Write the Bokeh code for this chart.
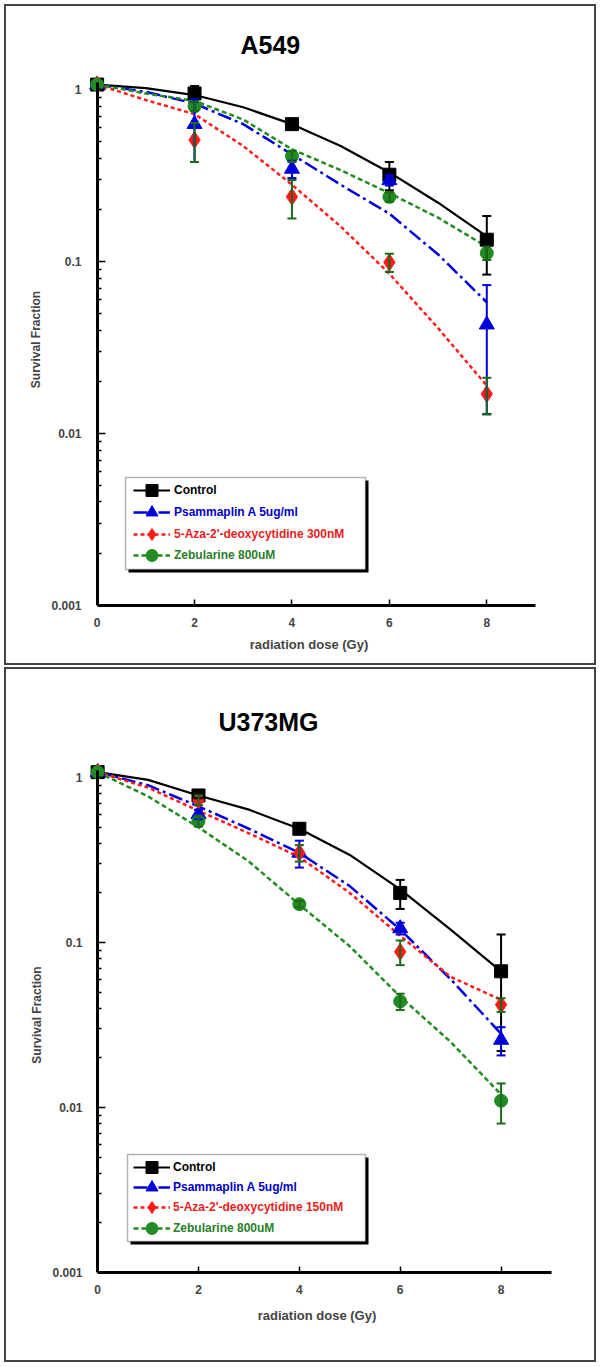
from bokeh.plotting import figure
from bokeh.models import (Range1d, FixedTicker, CustomJSTickFormatter, Whisker, TeeHead,
                          ColumnDataSource, Legend, LegendItem, BoxAnnotation, LogAxis)
from bokeh.layouts import column
from bokeh.embed import file_html
from bokeh.resources import INLINE

# ---------------- data ----------------
doses = [0, 2, 4, 6, 8]
curve_doses = [0, 1, 2, 3, 4, 5, 6, 7, 8]

series_labels_a549 = ["Control", "Psammaplin A 5ug/ml", "5-Aza-2'-deoxycytidine 300nM", "Zebularine 800uM"]
series_labels_u373 = ["Control", "Psammaplin A 5ug/ml", "5-Aza-2'-deoxycytidine 150nM", "Zebularine 800uM"]

# A549 measured survival fractions and errors
a549_control = [1.07, 0.95, 0.63, 0.32, 0.134]
a549_control_err = [0.0, 0.10, 0.03, 0.06, 0.05]
a549_psam = [1.07, 0.63, 0.346, 0.297, 0.043]
a549_psam_err = [0.0, 0.25, 0.04, 0.02, 0.03]
a549_aza = [1.07, 0.51, 0.238, 0.099, 0.017]
a549_aza_err = [0.0, 0.13, 0.06, 0.012, 0.0041]
a549_zeb = [1.07, 0.80, 0.41, 0.238, 0.112]
a549_zeb_err = [0.0, 0.05, 0.03, 0.015, 0.01]
# A549 fitted curves (read at 0..8 Gy)
a549_control_fit = [1.07, 1.02, 0.93, 0.79, 0.63, 0.47, 0.33, 0.22, 0.14]
a549_psam_fit = [1.07, 0.97, 0.83, 0.63, 0.42, 0.28, 0.19, 0.11, 0.058]
a549_aza_fit = [1.07, 0.87, 0.72, 0.47, 0.28, 0.16, 0.085, 0.041, 0.019]
a549_zeb_fit = [1.07, 0.95, 0.86, 0.67, 0.45, 0.34, 0.25, 0.18, 0.122]

# U373MG measured survival fractions and errors
u373_control = [1.08, 0.78, 0.49, 0.20, 0.067]
u373_control_err = [0.0, 0.03, 0.03, 0.04, 0.045]
u373_psam = [1.08, 0.60, 0.35, 0.122, 0.0257]
u373_psam_err = [0.0, 0.04, 0.065, 0.01, 0.005]
u373_aza = [1.08, 0.73, 0.35, 0.088, 0.042]
u373_aza_err = [0.0, 0.05, 0.04, 0.015, 0.004]
u373_zeb = [1.08, 0.545, 0.171, 0.044, 0.011]
u373_zeb_err = [0.0, 0.04, 0.008, 0.005, 0.003]
# U373MG fitted curves
u373_control_fit = [1.08, 0.97, 0.78, 0.64, 0.49, 0.34, 0.21, 0.12, 0.067]
u373_psam_fit = [1.08, 0.90, 0.67, 0.49, 0.35, 0.22, 0.12, 0.06, 0.028]
u373_aza_fit = [1.08, 0.87, 0.63, 0.46, 0.33, 0.20, 0.11, 0.062, 0.045]
u373_zeb_fit = [1.08, 0.77, 0.50, 0.31, 0.17, 0.095, 0.047, 0.025, 0.012]

y_tick_values = [0.001, 0.01, 0.1, 1]
x_tick_values = [0, 2, 4, 6, 8]

# ---------------- styles ----------------
FONT = "Liberation Sans"
styles = [
    dict(color="#000000", text="#000000", bar="#000000", marker="square", size=13, dash="solid", lw=2.2),
    dict(color="#0000DD", text="#0000CC", bar="#0000DD", marker="triangle", size=15, dash="14 4 3 4", lw=2.5),
    dict(color="#FF1A1A", text="#EE1C1C", bar="#1A6B1A", marker="diamond", size=17, dash="4 3", lw=2.5),
    dict(color="#228B22", text="#2A7F2A", bar="#1A6B1A", marker="circle", size=13, dash="5 3", lw=2.5),
]
MINOR = [m * 10.0 ** e for e in (-3, -2, -1) for m in range(2, 10)]


def make_panel(title, labels, meas, errs, fits, geo):
    W = 588
    p = figure(x_range=Range1d(-0.3, 9.0), y_range=Range1d(0.001, geo["y_end"]),
               y_axis_type="log", output_backend="svg", toolbar_location=None,
               frame_width=geo["fw"], frame_height=geo["fh"],
               min_border_left=geo["bl"], min_border_right=W - geo["bl"] - geo["fw"],
               min_border_top=geo["bt"], min_border_bottom=geo["bb"],
               background_fill_color="white", border_fill_color="white")
    p.outline_line_color = None
    p.grid.visible = False
    p.styles = {"border": "2px solid #444444"}
    p.margin = geo["margin"]

    # title
    p.title.text = title
    p.title.align = "left"
    p.title.offset = geo["toff"]
    p.title.standoff = geo["tstand"]
    p.title.text_font = FONT
    p.title.text_font_style = "bold"
    p.title.text_font_size = "25px"
    p.title.text_color = "black"

    # x axis
    xa = p.xaxis[0]
    xa.ticker = FixedTicker(ticks=x_tick_values)
    xa.bounds = (0, 9)
    xa.axis_line_width = 3
    xa.major_tick_in = 6
    xa.major_tick_out = 0
    xa.major_tick_line_width = 1.5
    xa.minor_tick_line_color = None
    xa.major_label_standoff = 12
    xa.major_label_text_font = FONT
    xa.major_label_text_font_style = "bold"
    xa.major_label_text_font_size = "12px"
    xa.axis_label = "radiation dose (Gy)"
    xa.axis_label_text_font = FONT
    xa.axis_label_text_font_style = "bold"
    xa.axis_label_text_font_size = "13px"
    xa.axis_label_standoff = geo["xls"]

    # y axis: labels at the frame edge (no line / ticks)
    ya = p.yaxis[0]
    ya.ticker = FixedTicker(ticks=y_tick_values)
    ya.formatter = CustomJSTickFormatter(code="return String(tick)")
    ya.axis_line_color = None
    ya.major_tick_line_color = None
    ya.minor_tick_line_color = None
    ya.major_label_standoff = geo["yms"]
    ya.major_label_text_font = FONT
    ya.major_label_text_font_style = "bold"
    ya.major_label_text_font_size = "12px"
    ya.axis_label = "Survival Fraction"
    ya.axis_label_text_font = FONT
    ya.axis_label_text_font_style = "bold"
    ya.axis_label_text_font_size = "12px"
    ya.axis_label_standoff = 5

    # y axis line + ticks drawn at dose 0
    yl = LogAxis(fixed_location=0, bounds=(0.001, 1.1),
                 ticker=FixedTicker(ticks=y_tick_values, minor_ticks=MINOR),
                 formatter=CustomJSTickFormatter(code="return ''"),
                 axis_line_width=3, major_tick_in=0, major_tick_out=8, major_tick_line_width=1.5,
                 minor_tick_in=0, minor_tick_out=4, minor_tick_line_width=1.5,
                 major_label_text_font_size="0px", major_label_standoff=0)
    p.add_layout(yl, "right")

    renderers = []
    for s, st, e, f in zip(meas, styles, errs, fits):
        line_r = p.line(curve_doses, f, line_color=st["color"], line_width=st["lw"], line_dash=st["dash"])
        xs = [d for d, ee in zip(doses, e) if ee > 0]
        up = [v + ee for v, ee in zip(s, e) if ee > 0]
        lo = [v - ee for v, ee in zip(s, e) if ee > 0]
        src = ColumnDataSource(dict(x=xs, upper=up, lower=lo))
        w = Whisker(base="x", upper="upper", lower="lower", source=src,
                    line_color=st["bar"], line_width=2, level="glyph",
                    upper_head=TeeHead(size=9, line_color=st["bar"], line_width=2),
                    lower_head=TeeHead(size=9, line_color=st["bar"], line_width=2))
        p.add_layout(w)
        renderers.append((line_r, st, s))
    scat = []
    for line_r, st, s in renderers:
        sr = p.scatter(doses, s, marker=st["marker"], size=st["size"], fill_color=st["color"],
                       line_color=st["color"], line_width=1)
        scat.append(sr)

    # legend box with shadow
    lg = geo["leg"]
    p.add_layout(BoxAnnotation(left=lg["l"] + 3, right=lg["r"] + 3, top=lg["t"] - 3, bottom=lg["b"] - 3,
                               left_units="screen", right_units="screen", top_units="screen",
                               bottom_units="screen", fill_color="black", fill_alpha=1, line_color=None))
    p.add_layout(BoxAnnotation(left=lg["l"], right=lg["r"], top=lg["t"], bottom=lg["b"],
                               left_units="screen", right_units="screen", top_units="screen",
                               bottom_units="screen", fill_color="white", fill_alpha=1,
                               line_color="black", line_width=1.5))
    for i, ((line_r, st, s), sr, lab) in enumerate(zip(renderers, scat, labels)):
        leg = Legend(items=[LegendItem(label=lab, renderers=[line_r, sr])],
                     location=(lg["gx"], lg["ys"][i] - 15), padding=0, margin=0, spacing=0,
                     border_line_color=None, background_fill_alpha=0,
                     glyph_width=37, glyph_height=30, label_height=30, label_standoff=lg["so"],
                     label_text_font=FONT, label_text_font_style="bold", label_text_font_size="12px",
                     label_text_color=st["text"], label_text_baseline="middle")
        p.add_layout(leg)
    return p


geo_top = dict(y_end=1.241, fw=449, fh=528, bl=76, bt=67, bb=62, margin=(4, 4, 0, 4),
               toff=158, tstand=30, xls=7, yms=-5,
               leg=dict(l=43, r=283, t=128, b=36, gx=51, ys=[115, 93, 71, 50], so=4))
geo_bot = dict(y_end=1.325, fw=465, fh=511, bl=71, bt=88, bb=92, margin=(2, 4, 0, 4),
               toff=136, tstand=44, xls=11, yms=-6,
               leg=dict(l=45, r=283, t=118, b=31, gx=51, ys=[105, 85, 65, 44], so=3))

p1 = make_panel("A549", series_labels_a549,
                [a549_control, a549_psam, a549_aza, a549_zeb],
                [a549_control_err, a549_psam_err, a549_aza_err, a549_zeb_err],
                [a549_control_fit, a549_psam_fit, a549_aza_fit, a549_zeb_fit], geo_top)
p2 = make_panel("U373MG", series_labels_u373,
                [u373_control, u373_psam, u373_aza, u373_zeb],
                [u373_control_err, u373_psam_err, u373_aza_err, u373_zeb_err],
                [u373_control_fit, u373_psam_fit, u373_aza_fit, u373_zeb_fit], geo_bot)

layout = column(p1, p2, spacing=0)
open("out.html", "w").write(file_html(layout, INLINE))
